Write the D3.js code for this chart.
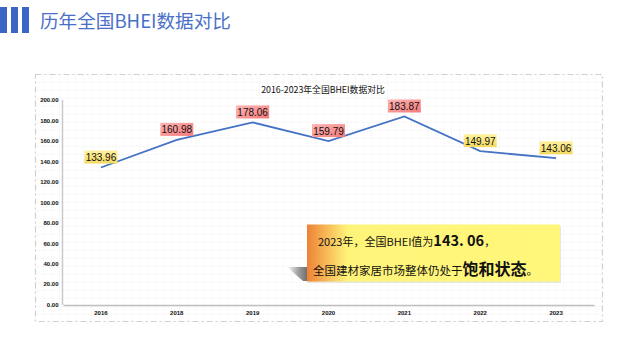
<!DOCTYPE html>
<html><head><meta charset="utf-8">
<script src="https://cdn.jsdelivr.net/npm/d3@7/dist/d3.min.js"></script>
<style>
html,body{margin:0;padding:0;background:#fff;}
svg{display:block;}
</style></head>
<body>
<svg id="c" width="640" height="360"></svg>
<script>
const years = ["2016","2018","2019","2020","2021","2022","2023"];
const values = [133.96,160.98,178.06,159.79,183.87,149.97,143.06];
const yTicks = [0,20,40,60,80,100,120,140,160,180,200];
const pageTitle = "历年全国BHEI数据对比";
const chartTitle = "2016-2023年全国BHEI数据对比";

const svg = d3.select("#c");
const defs = svg.append("defs");

// header
const bars = [0,11,22];
svg.selectAll("rect.hb").data(bars).enter().append("rect")
  .attr("x",d=>d).attr("y",7).attr("width",7).attr("height",26).attr("fill","#3b66c5");
svg.append("text").attr("x",40).attr("y",27.5).attr("font-family","Noto Sans CJK SC")
  .attr("font-size",18.6).attr("fill","#4a70c8").text(pageTitle);

// grid pattern
const pat = defs.append("pattern").attr("id","grid").attr("width",8).attr("height",8)
  .attr("patternUnits","userSpaceOnUse").attr("x",3).attr("y",2);
pat.append("path").attr("d","M8 0 L0 0 0 8").attr("fill","none").attr("stroke","#f3f3f3").attr("stroke-width",1);

svg.append("rect").attr("x",35.5).attr("y",74.5).attr("width",567).attr("height",247)
  .attr("fill","url(#grid)").attr("stroke","#d0d0d0").attr("stroke-width",1.2)
  .attr("stroke-dasharray","6,3,2,3");

svg.append("text").attr("x",323).attr("y",93).attr("text-anchor","middle")
  .attr("font-family","Noto Sans CJK SC").attr("font-size",8.8).attr("fill","#111").text(chartTitle);

const x = d3.scaleBand().domain(years).range([63,594]);
const y = d3.scaleLinear().domain([0,200]).range([304.5,100]);

// axes
const yAxis = svg.append("g").attr("transform","translate(62.5,0)")
  .call(d3.axisLeft(y).tickValues(yTicks).tickSize(0).tickPadding(4).tickFormat(d3.format(".2f")));
yAxis.select(".domain").attr("stroke","#c8c8c8").attr("stroke-width",1.5).attr("d","M0,100V305");
yAxis.selectAll("text").attr("font-family","Liberation Sans").attr("font-size",6)
  .attr("font-weight","bold").attr("fill","#111");

const xAxis = svg.append("g").attr("transform","translate(0,305)")
  .call(d3.axisBottom(x).tickSize(0).tickPadding(6));
xAxis.select(".domain").attr("stroke","#c0c0c0").attr("stroke-width",1.5);
xAxis.selectAll("text").attr("font-family","Liberation Sans").attr("font-size",6)
  .attr("font-weight","bold").attr("fill","#111");

// line
const line = d3.line().x((d,i)=>x(years[i])+x.bandwidth()/2).y(d=>y(d));
svg.append("path").datum(values).attr("d",line).attr("fill","none")
  .attr("stroke","#4472c4").attr("stroke-width",1.8);

// label gradients
const gy = defs.append("linearGradient").attr("id","gy").attr("x1",0).attr("y1",0).attr("x2",0).attr("y2",1);
gy.append("stop").attr("offset","0%").attr("stop-color","#fff2a0");
gy.append("stop").attr("offset","100%").attr("stop-color","#f2d960");
const gr = defs.append("linearGradient").attr("id","gr").attr("x1",0).attr("y1",0).attr("x2",1).attr("y2",1);
gr.append("stop").attr("offset","0%").attr("stop-color","#ffb4b4");
gr.append("stop").attr("offset","100%").attr("stop-color","#f47a7a");

const lab = svg.selectAll("g.lab").data(values).enter().append("g")
  .attr("transform",(d,i)=>`translate(${x(years[i])+x.bandwidth()/2},${y(d)-4})`);
lab.append("rect").attr("x",-16.5).attr("y",-13).attr("width",33).attr("height",13)
  .attr("fill",d=>d>150?"url(#gr)":"url(#gy)");
lab.append("text").attr("x",0).attr("y",-2.5).attr("text-anchor","middle")
  .attr("font-family","Liberation Sans").attr("font-size",10).attr("fill","#111")
  .text(d=>d.toFixed(2));

// annotation
const ga = defs.append("linearGradient").attr("id","ga").attr("x1",0).attr("y1",0).attr("x2",1).attr("y2",0);
ga.append("stop").attr("offset","0%").attr("stop-color","#ee8236");
ga.append("stop").attr("offset","16%").attr("stop-color","#fff47a");
ga.append("stop").attr("offset","100%").attr("stop-color","#fff77a");
const gs = defs.append("linearGradient").attr("id","gs").attr("x1",0).attr("y1",0).attr("x2",1).attr("y2",0);
gs.append("stop").attr("offset","0%").attr("stop-color","#ffffff");
gs.append("stop").attr("offset","60%").attr("stop-color","#9a9a9a");
gs.append("stop").attr("offset","100%").attr("stop-color","#707070");
svg.append("path").attr("d","M287,267 L307,267 L307,281 L303,281 Z").attr("fill","url(#gs)");
svg.append("rect").attr("x",308).attr("y",226).attr("width",253).attr("height",57).attr("fill","#d8d8c8").attr("opacity",0.6);
svg.append("rect").attr("x",307).attr("y",224.5).attr("width",253).attr("height",57).attr("fill","url(#ga)");

const t1 = svg.append("text").attr("x",318).attr("y",246).attr("font-family","Noto Sans CJK SC").attr("fill","#111");
t1.append("tspan").attr("font-size",11).text("2023年，全国BHEI值为");
t1.append("tspan").attr("font-size",14.5).attr("font-weight","bold").text("143. 06");
t1.append("tspan").attr("font-size",11).text("，");
const t2 = svg.append("text").attr("x",313).attr("y",275).attr("font-family","Noto Sans CJK SC").attr("fill","#111");
t2.append("tspan").attr("font-size",11.5).text("全国建材家居市场整体仍处于");
t2.append("tspan").attr("font-size",16).attr("font-weight","bold").text("饱和状态");
t2.append("tspan").attr("font-size",11.5).text("。");
</script>
</body></html>
